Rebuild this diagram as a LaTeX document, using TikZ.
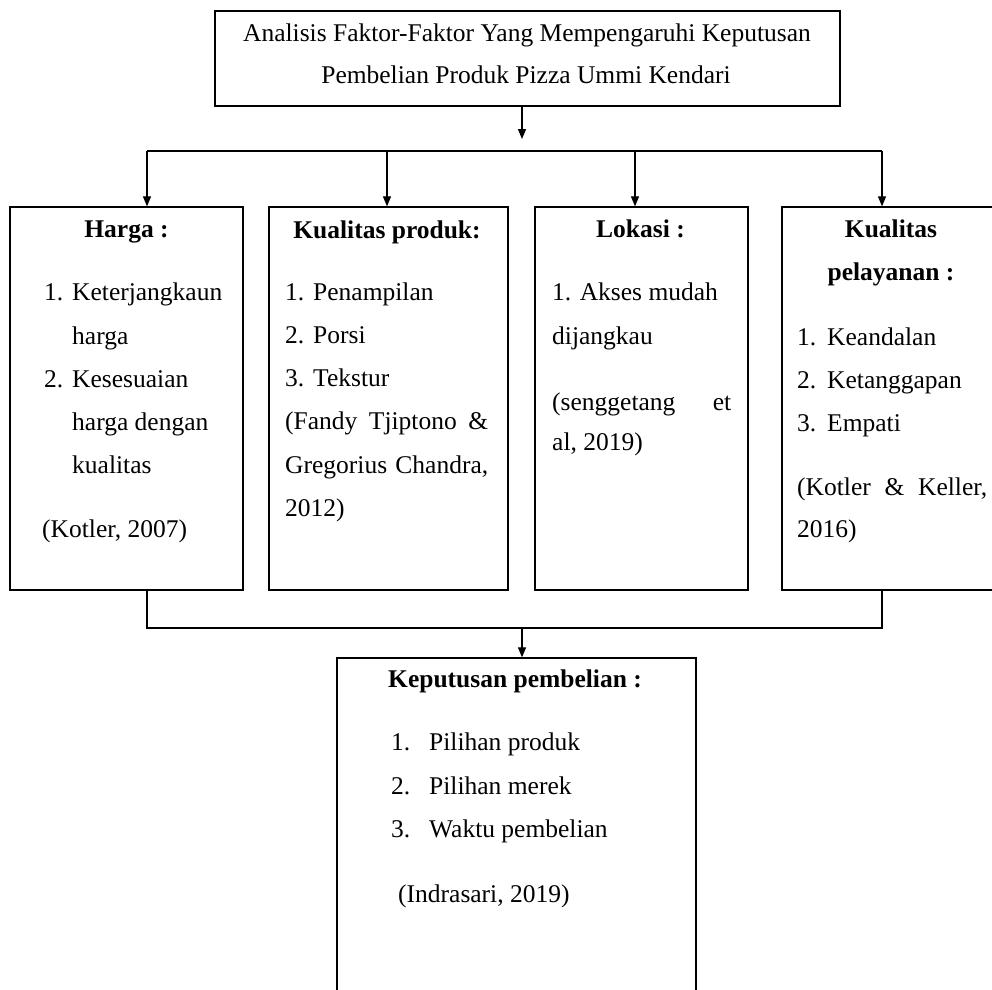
\documentclass[tikz,border=0pt]{standalone}
\usepackage{fontspec}
\setmainfont{Liberation Serif}
\usetikzlibrary{arrows.meta}
\tikzset{
  box/.style={draw=black, line width=1.3pt, inner sep=0pt, fill=none},
  conn/.style={draw=black, line width=1.2pt},
  arr/.style={conn, -{Triangle[length=10pt,width=8pt]}},
  txt/.style={inner sep=0pt, font=\fontsize{25.5}{30}\selectfont, anchor=base west},
  ctxt/.style={txt, anchor=base},
  ttl/.style={inner sep=0pt, font=\fontsize{25.5}{30}\selectfont\bfseries, anchor=base}
}
\begin{document}
\begin{tikzpicture}[x=1pt,y=-1pt]
\clip (0,0) rectangle (992,989);
\fill[white] (0,0) rectangle (992,989);

% boxes
\node[box, minimum width=625pt, minimum height=95pt] (top) at (527.5,58.5) {};
\node[box, minimum width=233pt, minimum height=383pt] (harga) at (126.5,398.5) {};
\node[box, minimum width=239pt, minimum height=383pt] (produk) at (388.5,398.5) {};
\node[box, minimum width=213pt, minimum height=383pt] (lokasi) at (641.5,398.5) {};
\node[box, minimum width=218pt, minimum height=383pt] (pelayanan) at (891,398.5) {};
\node[box, minimum width=359pt, minimum height=360pt] (kep) at (516.5,838) {};

% top text
\node[ctxt] (t1) at (527,41) {Analisis Faktor-Faktor Yang Mempengaruhi Keputusan};
\node[ctxt] (t2) at (526,83) {Pembelian Produk Pizza Ummi Kendari};

% harga
\node[ttl] (h0) at (126.5,237) {Harga :};
\node[txt] (h1n) at (44,300) {1.};
\node[txt] (h1) at (72,300) {Keterjangkaun};
\node[txt] (h1b) at (72,344) {harga};
\node[txt] (h2n) at (44,387) {2.};
\node[txt] (h2) at (72,387) {Kesesuaian};
\node[txt] (h2b) at (72,430) {harga dengan};
\node[txt] (h2c) at (72,473) {kualitas};
\node[txt] (hr) at (42,537) {(Kotler, 2007)};

% kualitas produk
\node[ttl] (p0) at (387,238) {Kualitas produk:};
\node[txt] (p1n) at (285,300) {1.};
\node[txt] (p1) at (313,300) {Penampilan};
\node[txt] (p2n) at (285,343) {2.};
\node[txt] (p2) at (313,343) {Porsi};
\node[txt] (p3n) at (285,386) {3.};
\node[txt] (p3) at (313,386) {Tekstur};
\node[txt] (pr1) at (285,429) {\makebox[203pt][s]{(Fandy Tjiptono \&}};
\node[txt] (pr2) at (285,473) {\makebox[203pt][s]{Gregorius Chandra,}};
\node[txt] (pr3) at (285,516) {2012)};

% lokasi
\node[ttl] (l0) at (640.5,237) {Lokasi :};
\node[txt] (l1) at (552,300) {1. Akses mudah};
\node[txt] (l1b) at (552,344) {dijangkau};
\node[txt] (lr1) at (552,410) {\makebox[179pt][s]{(senggetang et}};
\node[txt] (lr2) at (552,450) {al, 2019)};

% kualitas pelayanan
\node[ttl] (k0) at (891,237) {Kualitas};
\node[ttl] (k0b) at (891,280) {pelayanan :};
\node[txt] (k1n) at (797,345) {1.};
\node[txt] (k1) at (827,345) {Keandalan};
\node[txt] (k2n) at (797,388) {2.};
\node[txt] (k2) at (827,388) {Ketanggapan};
\node[txt] (k3n) at (797,431) {3.};
\node[txt] (k3) at (827,431) {Empati};
\node[txt] (kr1) at (797,495) {\makebox[190pt][s]{(Kotler \& Keller,}};
\node[txt] (kr2) at (797,537) {2016)};

% keputusan
\node[ttl] (d0) at (515,687) {Keputusan pembelian :};
\node[txt] (d1n) at (391,750) {1.};
\node[txt] (d1) at (429,750) {Pilihan produk};
\node[txt] (d2n) at (391,794) {2.};
\node[txt] (d2) at (429,794) {Pilihan merek};
\node[txt] (d3n) at (391,837) {3.};
\node[txt] (d3) at (429,837) {Waktu pembelian};
\node[txt] (dr) at (398,902) {(Indrasari, 2019)};

% connectors top
\coordinate (tA) at (522,139);
\draw[arr] (top.south -| tA) -- (tA);
\coordinate (b1) at (147,151);
\coordinate (b2) at (387,151);
\coordinate (b3) at (635,151);
\coordinate (b4) at (882,151);
\draw[conn] (b1) -- (b4);
\draw[arr] (b1) -- (harga.north -| b1);
\draw[arr] (b2) -- (produk.north -| b2);
\draw[arr] (b3) -- (lokasi.north -| b3);
\draw[arr] (b4) -- (pelayanan.north -| b4);

% connectors bottom
\coordinate (jL) at (147,628);
\coordinate (jR) at (882,628);
\coordinate (jM) at (522,628);
\draw[conn] (harga.south -| jL) -- (jL) -- (jR) -- (pelayanan.south -| jR);
\draw[arr] (jM) -- (kep.north -| jM);
\end{tikzpicture}
\end{document}
